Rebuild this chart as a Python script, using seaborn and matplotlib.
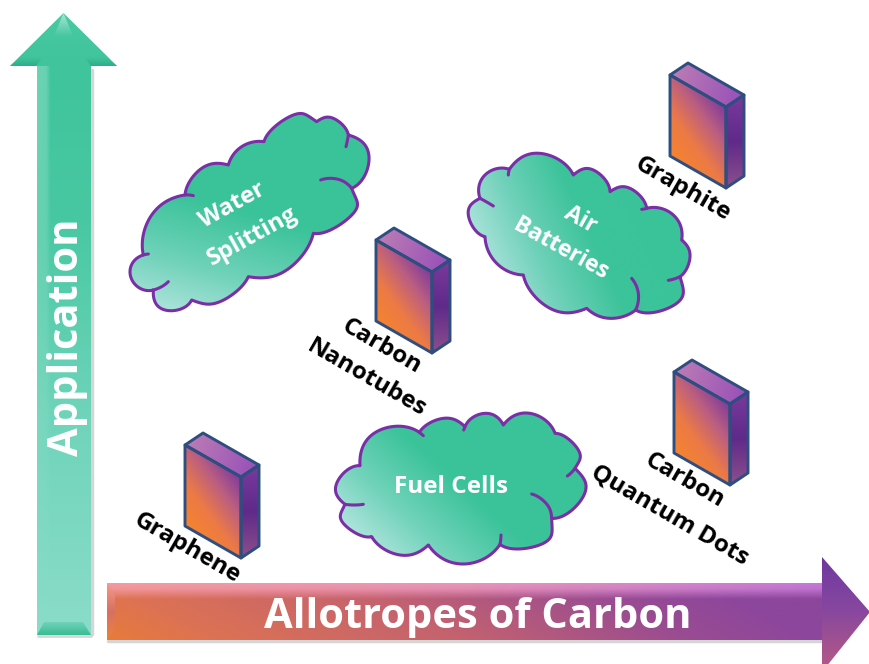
import numpy as np
import matplotlib
matplotlib.use("Agg")
import matplotlib.pyplot as plt
from matplotlib.path import Path
from matplotlib.patches import PathPatch
from matplotlib.colors import to_rgb
import seaborn as sns

# Diagram content
x_axis_title = "Allotropes of Carbon"
y_axis_title = "Application"
allotropes = ["Graphite", "Carbon\nNanotubes", "Carbon\nQuantum Dots", "Graphene"]
applications = ["Water\nSplitting", "Air\nBatteries", "Fuel Cells"]

sns.set_theme(style="white")
plt.rcParams["font.family"] = ["Open Sans", "DejaVu Sans"]

W, H = 870, 664
fig = plt.figure(figsize=(W / 100, H / 100), dpi=100, facecolor="white")
ax = fig.add_axes([0, 0, 1, 1])
ax.set_xlim(0, W)
ax.set_ylim(H, 0)
ax.axis("off")
ax.set_autoscale_on(False)


def ramp(stops):
    """Turn (position, colour) stops into a function of t backed by a seaborn blend."""
    pos = np.array([s[0] for s in stops], float)
    lut = np.array(sns.blend_palette([to_rgb(s[1]) for s in stops], n_colors=len(stops)))

    def f(t):
        return np.stack([np.interp(t, pos, lut[:, i]) for i in range(3)], axis=-1)
    return f


def paint(verts, shader, z=2, edge=None, lw=0):
    """Fill a polygon with an RGB field computed on a pixel grid."""
    verts = np.asarray(verts, float)
    x0, y0 = np.floor(verts.min(axis=0))
    x1, y1 = np.ceil(verts.max(axis=0))
    X, Y = np.meshgrid(np.linspace(x0, x1, int(x1 - x0) * 2 + 1),
                       np.linspace(y0, y1, int(y1 - y0) * 2 + 1))
    im = ax.imshow(np.clip(shader(X, Y), 0, 1), extent=(x0, x1, y1, y0),
                   origin="upper", aspect="auto", zorder=z, interpolation="bilinear")
    codes = [Path.MOVETO] + [Path.LINETO] * (len(verts) - 1) + [Path.CLOSEPOLY]
    path = Path(np.vstack([verts, verts[0]]), codes)
    clip = PathPatch(path, transform=ax.transData, fc="none", ec="none")
    ax.add_patch(clip)
    im.set_clip_path(clip)
    if edge:
        ax.add_patch(PathPatch(path, fc="none", ec=edge, lw=lw, zorder=z + 0.1,
                               joinstyle="round"))


def directional(verts, direction, stops):
    """Linear gradient across a polygon along the given direction."""
    verts = np.asarray(verts, float)
    d = np.asarray(direction, float)
    d = d / np.hypot(*d)
    proj = verts @ d
    lo, hi = proj.min(), proj.max()
    f = ramp(stops)
    return lambda X, Y: f((X * d[0] + Y * d[1] - lo) / (hi - lo))


def bulge(a, p, b, n=32):
    """Circular arc from a to b with its height set by crest p, leaning toward p."""
    a, p, b = map(lambda q: np.asarray(q, float), (a, p, b))
    chord = b - a
    half = np.hypot(*chord) / 2
    along = chord / (2 * half)
    normal = np.array([-along[1], along[0]])
    m = (a + b) / 2
    h = (p - m) @ normal
    if abs(h) < 1e-6:
        return np.linspace(a, b, n)
    radius = (half ** 2 + h ** 2) / (2 * abs(h))
    sweep = 2 * np.arctan2(abs(h), half) * 2
    t = np.linspace(-sweep / 2, sweep / 2, n)
    u = radius * np.sin(t)
    v = radius * (np.cos(t) - np.cos(sweep / 2))
    lean = ((p - m) @ along) * np.cos(t / sweep * np.pi) ** 2
    return m + (u + lean)[:, None] * along + (np.sign(h) * v)[:, None] * normal


def cloud(origin, lobes, hooks, direction, stops, label, label_spots, rotation, size):
    """Draw a cloud from (junction, crest) lobes given in thirds of a pixel."""
    o = np.array(origin, float)
    pts = [np.array(q, float) / 3 + o for lobe in lobes for q in lobe]
    n = len(lobes)
    outline = np.vstack([bulge(pts[2 * i], pts[2 * i + 1], pts[(2 * i + 2) % (2 * n)])
                         for i in range(n)])
    paint(outline, directional(outline, direction, stops), z=3, edge="#7A2FA6", lw=2.2)
    for a, p, b in hooks:
        seg = bulge(np.array(a) / 3 + o, np.array(p) / 3 + o, np.array(b) / 3 + o, n=14)
        ax.plot(seg[:, 0], seg[:, 1], color="#7A2FA6", lw=2.2, zorder=3.2,
                solid_capstyle="round")
    for text, (tx, ty) in zip(label.split("\n"), label_spots):
        ax.text(tx, ty, text, color="white", fontsize=size, fontweight="bold",
                rotation=rotation, ha="center", va="center",
                rotation_mode="anchor", zorder=4)


def brick(corner):
    """Isometric block; corner is the upper-left point of its front face."""
    c = np.array(corner, float)
    across, depth, drop = np.array([56, 32.0]), np.array([18, -12.0]), np.array([0, 81.0])
    front = np.array([c, c + across, c + across + drop, c + drop])
    top = np.array([c, c + depth, c + depth + across, c + across])
    side = np.array([c + across, c + across + depth, c + across + depth + drop, c + across + drop])
    paint(front, directional(front, (1, -0.75),
                             [(0, "#F5842F"), (0.35, "#EC7A45"), (0.68, "#BC5F80"), (1, "#7F3B9C")]), z=3)
    paint(top, directional(top, (1, 0.35), [(0, "#BC7DB4"), (1, "#9850B8")]), z=3)
    paint(side, directional(side, (0, 1),
                            [(0, "#7A3A9C"), (0.5, "#5F2A8A"), (1, "#8E4F8C")]), z=3)
    for face in (front, top, side):
        ax.add_patch(plt.Polygon(face, closed=True, fc="none", ec="#2E4E80", lw=2.1,
                                 zorder=3.3, joinstyle="round"))


def caption(text, x, y, size=17.5):
    ax.text(x, y, text, color="black", fontsize=size, fontweight="bold", rotation=-30,
            ha="center", va="center", rotation_mode="anchor", zorder=4)


# Vertical axis arrow ---------------------------------------------------------
ax.plot([92.5, 92.5], [70, 634], color="#bbbbbb", lw=2.5, alpha=0.6, zorder=1)
ax.plot([38, 91], [636, 636], color="#bbbbbb", lw=2, alpha=0.6, zorder=1)
shaft_v = [(37, 60), (91, 60), (91, 635), (37, 635)]
v_tone = ramp([(0, "#3FC49B"), (0.28, "#48C8A2"), (0.62, "#6FD4BA"), (1, "#8ADCC9")])


def shaft_v_shader(X, Y):
    base = v_tone((Y - 60) / 575)
    k = np.clip(np.interp((X - 37) / 54, [0, 0.17, 0.25, 1], [0.45, 0.4, 0, 0]) * (1 - (Y - 60) / 575), 0, 1)
    return base * (1 - k[..., None]) + np.array(to_rgb("#A5E6D2")) * k[..., None]


paint(shaft_v, shaft_v_shader, z=2)
foot = [(37, 635), (91, 635), (83, 622), (44, 622)]
paint(foot, directional(foot, (0, 1), [(0, "#6FD3B9"), (1, "#39BC95")]), z=2.2)
head_v = [(63.5, 13), (117, 66), (10, 66)]
paint(head_v, directional(head_v, (0, 1), [(0, "#52CBA7"), (0.2, "#47C8A1"), (1, "#3FC49B")]), z=2.3)
seam = [(63.5, 13), (54, 36), (73, 36)]
paint(seam, directional(seam, (0, 1), [(0, "#A8E6D4"), (1, "#47C8A1")]), z=2.35)
for wing in ([(10, 66), (36, 66), (42, 58), (22, 56)], [(117, 66), (91, 66), (85, 58), (105, 56)]):
    paint(wing, directional(wing, (0, 1), [(0, "#44C69F"), (1, "#2CAF88")]), z=2.4)
ax.text(68, 337, y_axis_title, color="white", fontsize=30, fontweight="bold", rotation=90,
        ha="center", va="center", zorder=4)

# Horizontal axis arrow -------------------------------------------------------
ax.plot([108, 822], [641, 641], color="#c4c4c4", lw=2.5, alpha=0.7, zorder=1)
body_tone = ramp([(0, "#E87B3A"), (0.16, "#DC7254"), (0.5, "#C4626F"), (0.82, "#9A4C92"), (1, "#8C469C")])
top_tone = ramp([(0, "#F59BA0"), (0.5, "#EB95BA"), (1, "#C678D8")])


def shaft_h_shader(X, Y):
    u, v = (X - 107) / 715, (Y - 583) / 57
    body = body_tone(np.clip(u + 0.16 * (1 - v), 0, 1))
    band = np.clip(np.interp(v, [0, 0.1, 0.28], [1, 0.85, 0]), 0, 1)[..., None]
    return body * (1 - band) + top_tone(u) * band


shaft_h = [(107, 583), (826, 583), (826, 640), (107, 640)]
paint(shaft_h, shaft_h_shader, z=2)
left_cap = [(107, 583), (115, 595), (115, 630), (107, 640)]
paint(left_cap, directional(left_cap, (0, 1), [(0, "#F39A8A"), (0.5, "#D87060"), (1, "#EE8238")]), z=2.2)
head_h = [(822, 557), (870, 612), (822, 672)]
paint(head_h, directional(head_h, (0, 1),
                          [(0, "#6F389F"), (0.45, "#8647A0"), (0.75, "#A2528F"), (1, "#B85A86")]), z=2.3)
ax.text(477.5, 617, x_axis_title, color="white", fontsize=30, fontweight="bold",
        ha="center", va="center", zorder=4)

# Application clouds ----------------------------------------------------------
green_to_pale = [(0, "#3AC399"), (0.5, "#3BC39A"), (0.78, "#6FD2B9"), (1, "#ABE3DA")]

cloud((120, 100),
      [((70, 465), (95, 345)), ((195, 285), (245, 205)), ((325, 195), (365, 140)),
       ((432, 125), (520, 45)), ((590, 65), (640, 55)), ((685, 105), (747, 170)),
       ((695, 265), (700, 340)), ((580, 400), (500, 510)), ((385, 530), (300, 605)),
       ((215, 600), (135, 630)), ((100, 570), (32, 530))],
      [((195, 285), (208, 285), (220, 287)), ((602, 240), (655, 238), (695, 265)),
       ((685, 105), (682, 122), (678, 140)), ((100, 570), (125, 560), (145, 545)),
       ((70, 465), (78, 463), (85, 462))],
      (-0.28, 1), green_to_pale, applications[0], [(232, 205), (252, 236)], 29, 17)

cloud((460, 140),
      [((75, 290), (25, 225)), ((60, 175), (75, 105)), ((148, 88), (240, 40)),
       ((340, 105), (400, 90)), ((450, 155), (510, 145)), ((560, 205), (640, 225)),
       ((665, 300), (690, 350)), ((660, 410), (650, 490)), ((527, 510), (450, 535)),
       ((380, 505), (270, 505)), ((190, 405), (110, 370))],
      [((60, 175), (80, 186), (100, 198)), ((148, 88), (146, 96), (145, 105)),
       ((660, 410), (642, 417), (625, 421)), ((527, 510), (535, 460), (515, 415)),
       ((560, 205), (552, 207), (545, 208))],
      (-1, 0.45), [(0, "#3AC399"), (0.45, "#3CC39A"), (0.75, "#6FD1B9"), (1, "#A8E2D9")],
      applications[1], [(580, 220), (561, 249)], -29, 16.5)

cloud((330, 400),
      [((90, 197), (140, 95)), ((268, 97), (340, 55)), ((405, 80), (465, 40)),
       ((520, 75), (600, 40)), ((675, 100), (745, 150)), ((735, 205), (762, 285)),
       ((665, 355), (640, 430)), ((510, 433), (400, 492)), ((295, 435), (210, 465)),
       ((125, 410), (40, 370)), ((45, 313), (20, 250))],
      [((45, 313), (72, 315), (100, 313)), ((735, 205), (724, 218), (712, 228)),
       ((665, 355), (650, 312), (605, 282)), ((510, 433), (512, 420), (513, 405)),
       ((268, 97), (274, 102), (280, 107)), ((405, 80), (403, 85), (401, 90))],
      (-1, 1.1), [(0, "#3AC399"), (0.5, "#3BC39A"), (0.78, "#72D3BB"), (1, "#AEE4DC")],
      applications[2], [(451, 487)], 0, 17.5)

# Allotrope blocks and their captions -----------------------------------------
for corner in [(670, 75), (376, 240), (674, 372), (185, 445)]:
    brick(corner)

caption(allotropes[0], 683, 189)
first, second = allotropes[1].split("\n")
caption(first, 382, 347)
caption(second, 367, 378)
first, second = allotropes[2].split("\n")
caption(first, 685, 481)
caption(second, 670, 515)
caption(allotropes[3], 187, 548)

fig.savefig("out.png", dpi=100, facecolor="white")
